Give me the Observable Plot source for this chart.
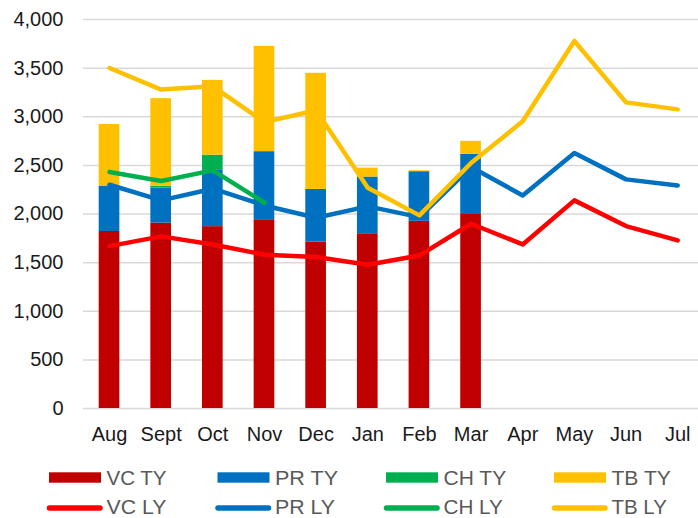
<!DOCTYPE html>
<html>
<head>
<meta charset="utf-8">
<script src="https://cdn.jsdelivr.net/npm/d3@7"></script>
<script src="https://cdn.jsdelivr.net/npm/@observablehq/plot@0.6"></script>
<style>
  html, body { margin: 0; padding: 0; background: #fff; }
  #chart { position: relative; width: 698px; height: 518px; overflow: hidden; }
  #chart svg { display: block; }
</style>
</head>
<body>
<div id="chart"></div>
<script>
// ---- data ----
const months = ["Aug","Sept","Oct","Nov","Dec","Jan","Feb","Mar","Apr","May","Jun","Jul"];
const yTicks = [0, 500, 1000, 1500, 2000, 2500, 3000, 3500, 4000];

const vcTY = [1820, 1906, 1870, 1941, 1711, 1797, 1925, 2003];
const prTY = [467, 360, 585, 700, 542, 583, 510, 610];
const chTY = [0, 20, 150, 0, 0, 0, 0, 0];
const tbTY = [633, 900, 769, 1083, 1194, 92, 10, 134];

const vcLY = [1670, 1770, 1687, 1581, 1557, 1478, 1574, 1900, 1687, 2140, 1876, 1728];
const prLY = [2301, 2140, 2260, 2088, 1962, 2078, 1968, 2483, 2191, 2627, 2356, 2294];
const chLY = [2431, 2339, 2449, 2116];
const tbLY = [3501, 3279, 3313, 2946, 3066, 2270, 1986, 2524, 2953, 3779, 3148, 3076];

const barSeries = ["VC TY", "PR TY", "CH TY", "TB TY"];
const barColors = ["#c00000", "#0070c0", "#00b050", "#ffc000"];
const lineSeries = ["VC LY", "PR LY", "CH LY", "TB LY"];
const lineColors = ["#ff0000", "#0070c0", "#00b050", "#ffc000"];

// ---- build tables ----
const barValues = [vcTY, prTY, chTY, tbTY];
const bars = [];
barSeries.forEach((s, si) => {
  barValues[si].forEach((v, i) => bars.push({month: months[i], series: s, value: v}));
});
const lineValues = [vcLY, prLY, chLY, tbLY];
const lines = lineSeries.map((s, si) => lineValues[si].map((v, i) => ({month: months[i], series: s, value: v})));

const font = "'Liberation Sans', Arial, sans-serif";

const plot = Plot.plot({
  width: 698,
  height: 450,
  marginTop: 19,
  marginBottom: 42,
  marginLeft: 83,
  marginRight: 0,
  style: {fontFamily: font, fontSize: "20px", color: "#1a1a1a", background: "#fff"},
  x: {domain: months, range: [83.2, 703], paddingInner: 0.6, paddingOuter: 0.3, round: false},
  y: {domain: [0, 4000]},
  color: {domain: barSeries, range: barColors},
  marks: [
    Plot.gridY(yTicks, {stroke: "#d9d9d9", strokeOpacity: 1, strokeWidth: 1.5}),
    Plot.axisY({ticks: yTicks, tickSize: 0, tickPadding: 20, tickFormat: d3.format(","), fontSize: 20, label: null}),
    Plot.axisX({tickSize: 0, tickPadding: 18, fontSize: 20, label: null}),
    Plot.barY(bars, {x: "month", y: "value", fill: "series"}),
    ...lines.map((ld, i) => Plot.line(ld, {x: "month", y: "value", stroke: lineColors[i], strokeWidth: 4.5, strokeLinecap: "round", strokeLinejoin: "round"}))
  ]
});
document.getElementById("chart").appendChild(plot);

// ---- legend ----
const legend = d3.select("#chart").append("svg")
  .attr("width", 698).attr("height", 68)
  .style("position", "absolute").style("left", "0px").style("top", "450px")
  .style("font-family", font);
const colX = [49, 217.5, 386, 554];
const tyLen = [60, 63, 62.7, 59.3];
const lyLen = [60, 60, 59.3, 55.4];
barSeries.forEach((s, i) => {
  legend.append("rect").attr("x", colX[i]).attr("y", 22.3).attr("width", 52).attr("height", 10.4).attr("fill", barColors[i]);
  legend.append("text").attr("x", colX[i] + 57.5).attr("y", 35).attr("font-size", 21).attr("fill", "#595959")
    .attr("textLength", tyLen[i]).attr("lengthAdjust", "spacingAndGlyphs").text(s);
});
lineSeries.forEach((s, i) => {
  legend.append("line").attr("x1", colX[i] + 0.5).attr("x2", colX[i] + 51).attr("y1", 58).attr("y2", 58)
    .attr("stroke", lineColors[i]).attr("stroke-width", 5.5).attr("stroke-linecap", "round");
  legend.append("text").attr("x", colX[i] + 57.5).attr("y", 64).attr("font-size", 21).attr("fill", "#595959")
    .attr("textLength", lyLen[i]).attr("lengthAdjust", "spacingAndGlyphs").text(s);
});
</script>
</body>
</html>
